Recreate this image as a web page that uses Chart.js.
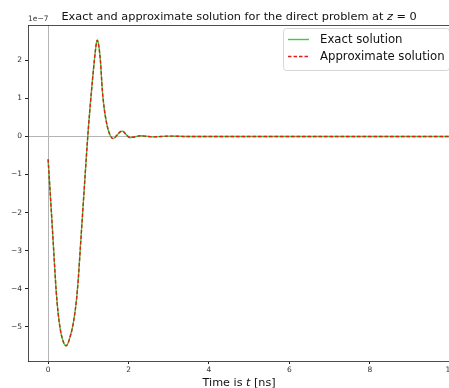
<!DOCTYPE html>
<html>
<head>
<meta charset="utf-8">
<script src="https://cdn.jsdelivr.net/npm/chart.js@4"></script>
<style>
  html, body { margin: 0; padding: 0; background: #fff; overflow: hidden; }
  #wrap { width: 457px; height: 388px; position: relative; }
</style>
</head>
<body>
<div id="wrap"><canvas id="chart"></canvas></div>
<script>
// time axis in ns, field values in units of 1e-7
const times = [
  0.00, 0.05, 0.10, 0.15, 0.20, 0.25, 0.30, 0.35, 0.40, 0.45,
  0.50, 0.55, 0.60, 0.65, 0.70, 0.75, 0.80, 0.85, 0.90, 0.95,
  1.00, 1.05, 1.10, 1.15, 1.20, 1.22, 1.25, 1.30, 1.35, 1.40,
  1.45, 1.50, 1.55, 1.60, 1.65, 1.70, 1.75, 1.80, 1.85, 1.90,
  1.95, 2.00, 2.05, 2.10, 2.20, 2.30, 2.40, 2.50, 2.60, 2.80,
  3.00, 3.50, 4.00, 4.50, 5.00, 5.50, 6.00, 6.50, 7.00, 7.50,
  8.00, 8.50, 9.00, 9.50, 10.00
];
const exactValues = [
  -0.60, -1.45, -2.30, -3.20, -4.05, -4.65, -5.05, -5.30, -5.45, -5.50,
  -5.42, -5.25, -5.05, -4.75, -4.35, -3.75, -2.95, -2.15, -1.35, -0.55,
  0.20, 0.85, 1.45, 2.00, 2.45, 2.53, 2.45, 2.00, 1.19, 0.70,
  0.38, 0.15, 0.02, -0.05, -0.04, 0.02, 0.08, 0.13, 0.14, 0.10,
  0.04, -0.01, -0.03, -0.02, 0.00, 0.02, 0.01, 0.00, -0.01, 0.00,
  0.01, 0.00, 0.00, 0.00, 0.00, 0.00, 0.00, 0.00, 0.00, 0.00,
  0.00, 0.00, 0.00, 0.00, 0.00
];
const approxValues = [
  -0.60, -1.45, -2.30, -3.20, -4.05, -4.65, -5.05, -5.30, -5.45, -5.50,
  -5.42, -5.25, -5.05, -4.75, -4.35, -3.75, -2.95, -2.15, -1.35, -0.55,
  0.20, 0.85, 1.45, 2.00, 2.45, 2.53, 2.45, 2.00, 1.19, 0.70,
  0.38, 0.15, 0.02, -0.05, -0.04, 0.02, 0.08, 0.13, 0.14, 0.10,
  0.04, -0.01, -0.03, -0.02, 0.00, 0.02, 0.01, 0.00, -0.01, 0.00,
  0.01, 0.00, 0.00, 0.00, 0.00, 0.00, 0.00, 0.00, 0.00, 0.00,
  0.00, 0.00, 0.00, 0.00, 0.00
];
const xTicks = [0, 2, 4, 6, 8, 10];
const yTicks = [-5, -4, -3, -2, -1, 0, 1, 2];
const seriesLabels = ['Exact solution', 'Approximate solution'];

const FONT = '"DejaVu Sans", sans-serif';
const minus = v => String(v).replace('-', '\u2212');

const toPoints = vals => times.map((t, i) => ({ x: t, y: vals[i] }));

// title, axis label, offset text, frame and legend drawn on the canvas
const decorations = {
  id: 'decorations',
  afterDraw(chart) {
    const { ctx, chartArea: a } = chart;
    const cx = (a.left + a.right) / 2;
    ctx.save();

    // top frame line
    ctx.strokeStyle = '#222';
    ctx.lineWidth = 0.8;
    ctx.beginPath();
    ctx.moveTo(a.left, a.top + 0.5);
    ctx.lineTo(a.right, a.top + 0.5);
    ctx.lineTo(a.right, a.bottom);
    ctx.stroke();

    ctx.fillStyle = '#111';
    ctx.textBaseline = 'alphabetic';

    // title with italic z
    const t1 = 'Exact and approximate solution for the direct problem at ';
    const t2 = 'z';
    const t3 = ' = 0';
    const tf = '11.3px ' + FONT;
    ctx.font = tf;
    const w1 = ctx.measureText(t1).width, w3 = ctx.measureText(t3).width;
    ctx.font = 'italic ' + tf;
    const w2 = ctx.measureText(t2).width;
    let x = cx - (w1 + w2 + w3) / 2;
    const ty = 20;
    ctx.textAlign = 'left';
    ctx.font = tf; ctx.fillText(t1, x, ty); x += w1;
    ctx.font = 'italic ' + tf; ctx.fillText(t2, x, ty); x += w2;
    ctx.font = tf; ctx.fillText(t3, x, ty);

    // x axis label with italic t
    const l1 = 'Time is ', l2 = 't', l3 = ' [ns]';
    ctx.font = '11.2px ' + FONT;
    const v1 = ctx.measureText(l1).width, v3 = ctx.measureText(l3).width;
    ctx.font = 'italic 11.2px ' + FONT;
    const v2 = ctx.measureText(l2).width;
    x = cx - (v1 + v2 + v3) / 2;
    const ly = 386;
    ctx.font = '11.2px ' + FONT; ctx.fillText(l1, x, ly); x += v1;
    ctx.font = 'italic 11.2px ' + FONT; ctx.fillText(l2, x, ly); x += v2;
    ctx.font = '11.2px ' + FONT; ctx.fillText(l3, x, ly);

    // offset text of the y axis
    ctx.font = '7.5px ' + FONT;
    ctx.fillStyle = '#333';
    ctx.fillText('1e\u22127', a.left, a.top - 4);

    // legend
    const bx = 283, by = 28, bw = 166, bh = 42;
    ctx.fillStyle = 'rgba(255,255,255,0.85)';
    ctx.strokeStyle = '#d6d6d6';
    ctx.lineWidth = 1;
    ctx.beginPath();
    ctx.roundRect(bx + 0.5, by + 0.5, bw, bh, 3);
    ctx.fill();
    ctx.stroke();

    chart.data.datasets.forEach((ds, i) => {
      const ry = by + 11.5 + i * 17;
      ctx.strokeStyle = ds.borderColor;
      ctx.lineWidth = ds.borderWidth;
      ctx.setLineDash(ds.borderDash || []);
      ctx.beginPath();
      ctx.moveTo(bx + 5, ry);
      ctx.lineTo(bx + 26, ry);
      ctx.stroke();
      ctx.setLineDash([]);
      ctx.fillStyle = '#111';
      ctx.font = '11.7px ' + FONT;
      ctx.textBaseline = 'middle';
      ctx.fillText(ds.label, bx + 37, ry);
    });
    ctx.restore();
  }
};

new Chart(document.getElementById('chart'), {
  type: 'line',
  data: {
    datasets: [
      {
        label: seriesLabels[0],
        data: toPoints(exactValues),
        borderColor: '#3fcc3f',
        borderWidth: 1.4,
        pointRadius: 0,
        order: 2,
        cubicInterpolationMode: 'monotone'
      },
      {
        label: seriesLabels[1],
        data: toPoints(approxValues),
        borderColor: '#e01e16',
        borderWidth: 1.4,
        borderDash: [3.5, 2],
        pointRadius: 0,
        order: 1,
        cubicInterpolationMode: 'monotone'
      }
    ]
  },
  options: {
    responsive: true,
    maintainAspectRatio: false,
    animation: false,
    layout: { padding: { top: 25, left: 0, right: 0, bottom: 0 } },
    plugins: {
      legend: { display: false },
      tooltip: { enabled: false }
    },
    scales: {
      x: {
        type: 'linear',
        min: -0.5,
        max: 10,
        afterBuildTicks: s => { s.ticks = xTicks.map(v => ({ value: v })); },
        afterFit: s => { s.height = 27; },
        border: { color: '#222', width: 0.8 },
        grid: {
          drawOnChartArea: true,
          color: c => (c.tick && c.tick.value === 0 ? '#b4b4b4' : 'rgba(0,0,0,0)'),
          tickColor: '#222',
          tickLength: 3,
          lineWidth: 1
        },
        ticks: {
          color: '#333',
          padding: 2,
          maxRotation: 0,
          font: { family: FONT, size: 7.5 },
          callback: v => minus(v)
        }
      },
      y: {
        min: -5.9,
        max: 2.93,
        afterBuildTicks: s => { s.ticks = yTicks.map(v => ({ value: v })); },
        afterFit: s => { s.width = 28; },
        border: { color: '#222', width: 0.8 },
        grid: {
          drawOnChartArea: true,
          color: c => (c.tick && c.tick.value === 0 ? '#b4b4b4' : 'rgba(0,0,0,0)'),
          tickColor: '#222',
          tickLength: 3,
          lineWidth: 1
        },
        ticks: {
          color: '#333',
          padding: 3,
          font: { family: FONT, size: 7.5 },
          callback: v => minus(v)
        }
      }
    }
  },
  plugins: [decorations]
});
</script>
</body>
</html>
